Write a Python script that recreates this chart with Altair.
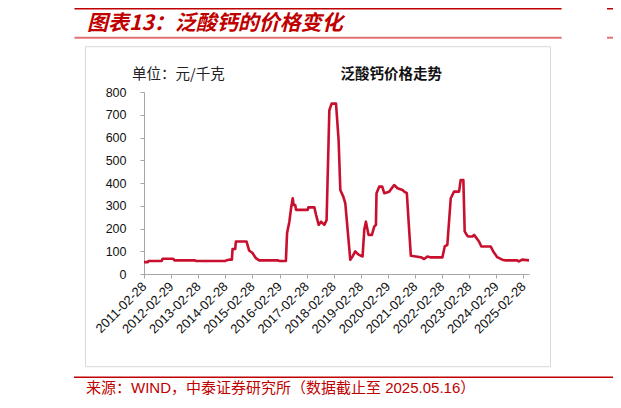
import altair as alt
import pandas as pd

# ---- data ----
dates = [
    "2011-02-28", "2011-04-20", "2011-04-28", "2011-10-25", "2011-11-06", "2012-03-28",
    "2012-04-12", "2013-01-15", "2013-01-28", "2014-03-01", "2014-03-15", "2014-04-23",
    "2014-05-28", "2014-06-06", "2014-07-12", "2014-07-21", "2014-12-11", "2015-01-16",
    "2015-03-02", "2015-04-15", "2015-05-31", "2016-02-10", "2016-02-24", "2016-05-25",
    "2016-06-10", "2016-07-11", "2016-08-03", "2016-08-25", "2016-09-07", "2016-09-28",
    "2016-10-09", "2017-03-15", "2017-03-24", "2017-06-13", "2017-07-06", "2017-08-10",
    "2017-09-11", "2017-10-25", "2017-11-25", "2018-01-01", "2018-02-01", "2018-04-01",
    "2018-05-06", "2018-05-29", "2018-07-08", "2018-08-04", "2018-10-10", "2018-11-10",
    "2018-12-16", "2019-01-30", "2019-03-25", "2019-04-17", "2019-05-09", "2019-06-13",
    "2019-07-29", "2019-08-29", "2019-09-21", "2019-09-29", "2019-11-04", "2019-12-15",
    "2020-01-11", "2020-03-18", "2020-05-24", "2020-07-08", "2020-09-13", "2020-10-06",
    "2020-11-11", "2020-12-12", "2021-01-04", "2021-05-18", "2021-07-02", "2021-08-15",
    "2021-10-04", "2022-03-05", "2022-04-06", "2022-05-11", "2022-06-26", "2022-08-09",
    "2022-10-16", "2022-11-07", "2022-12-13", "2022-12-31", "2023-01-27", "2023-02-14",
    "2023-04-13", "2023-05-06", "2023-07-12", "2023-08-12", "2023-12-16", "2024-01-20",
    "2024-03-14", "2024-05-20", "2024-06-26", "2024-12-08", "2024-12-31", "2025-02-13",
    "2025-05-16",
]
prices = [
    52, 52, 57, 57, 67, 67,
    60, 60, 57, 57, 60, 63,
    63, 110, 110, 143, 143, 103,
    92, 70, 60, 60, 57, 57,
    180, 230, 289, 333, 303, 303,
    282, 282, 293, 293, 260, 216,
    230, 216, 237, 720, 749, 749,
    588, 369, 340, 311, 63, 77,
    99, 85, 77, 194, 230, 172,
    172, 208, 216, 355, 384, 384,
    355, 362, 391, 377, 369, 362,
    355, 194, 80, 74, 66, 77,
    73, 73, 121, 128, 333, 362,
    362, 413, 413, 187, 172, 165,
    165, 172, 143, 121, 121, 99,
    74, 63, 60, 60, 55, 63,
    60,
]
tick_years = list(range(2011, 2026))
tick_days = [29 if y % 4 == 0 else 28 for y in tick_years]
y_ticks = [0, 100, 200, 300, 400, 500, 600, 700, 800]

title_text = ["图表13：泛酸钙的价格变化"]
unit_text = ["单位：元/千克"]
chart_title_text = ["泛酸钙价格走势"]
source_text = ["来源：WIND，中泰证券研究所（数据截止至 2025.05.16）"]

df = pd.DataFrame({"date": dates, "price": prices})

RED = "#C00000"
LINE = "#C8102E"
FONT = "Liberation Sans, Noto Sans CJK SC, sans-serif"
CJK = "Noto Sans CJK SC, sans-serif"

one = pd.DataFrame({"k": [0]})

border = alt.Chart(one).mark_rect(
    fillOpacity=0, stroke="#d9d9d9", strokeWidth=1
).encode(x=alt.value(-58.5), x2=alt.value(406.5), y=alt.value(-45.3), y2=alt.value(274.7))

top_rule = alt.Chart(one).mark_rule(color=RED, strokeWidth=3).encode(
    x=alt.value(-69.5), x2=alt.value(417.6), y=alt.value(-84))
top_rule2 = alt.Chart(one).mark_rule(color=RED, strokeWidth=3).encode(
    x=alt.value(463), x2=alt.value(480), y=alt.value(-84))
pink_rule = alt.Chart(one).mark_rule(color="#E07272", strokeWidth=2).encode(
    x=alt.value(-69.5), x2=alt.value(417.6), y=alt.value(-54.3))
pink_rule2 = alt.Chart(one).mark_rule(color="#E07272", strokeWidth=2).encode(
    x=alt.value(463), x2=alt.value(480), y=alt.value(-54.3))
bottom_rule = alt.Chart(one).mark_rule(color=RED, strokeWidth=1.5).encode(
    x=alt.value(-70), x2=alt.value(480), y=alt.value(285.3))

title = alt.Chart(pd.DataFrame({"t": title_text})).mark_text(
    align="left", baseline="middle", font=CJK, fontSize=21, fontWeight="bold",
    fontStyle="italic", color=RED
).encode(text="t:N", x=alt.value(-57), y=alt.value(-68))

unit = alt.Chart(pd.DataFrame({"t": unit_text})).mark_text(
    align="left", baseline="middle", font=CJK, fontSize=14.5, color="#222222"
).encode(text="t:N", x=alt.value(-12), y=alt.value(-17))

ctitle = alt.Chart(pd.DataFrame({"t": chart_title_text})).mark_text(
    align="left", baseline="middle", font=CJK, fontSize=14.5, fontWeight="bold", color="#111111"
).encode(text="t:N", x=alt.value(196.6), y=alt.value(-17))

source = alt.Chart(pd.DataFrame({"t": source_text})).mark_text(
    align="left", baseline="middle", font=FONT, fontSize=15, color=RED
).encode(text="t:N", x=alt.value(-58), y=alt.value(295.7))

x_values = [alt.DateTime(year=y, month=2, date=d, utc=True) for y, d in zip(tick_years, tick_days)]

line = alt.Chart(df).mark_line(color=LINE, strokeWidth=2.6, strokeJoin="round").encode(
    x=alt.X(
        "date:T",
        scale=alt.Scale(type="utc", domain=[alt.DateTime(year=2011, month=2, date=28, utc=True),
                                             alt.DateTime(year=2025, month=5, date=16, utc=True)]),
        axis=alt.Axis(
            values=x_values, format="%Y-%m-%d", labelAngle=-45, labelAlign="right",
            labelBaseline="middle", labelFont="Liberation Sans", labelFontSize=13,
            labelColor="#111111", domainColor="#a6a6a6", tickColor="#a6a6a6", tickSize=4,
            labelPadding=6, grid=False, title=None, labelOverlap=False, labelFlush=False,
        ),
    ),
    y=alt.Y(
        "price:Q",
        scale=alt.Scale(domain=[0, 800], nice=False, zero=True),
        axis=alt.Axis(
            values=y_ticks, labelFont="Liberation Sans", labelFontSize=12.5,
            labelColor="#111111", domainColor="#a6a6a6", tickColor="#a6a6a6", tickSize=4,
            labelPadding=14, grid=False, title=None,
        ),
    ),
)

chart = alt.layer(
    border, top_rule, top_rule2, pink_rule, pink_rule2, bottom_rule,
    title, unit, ctitle, source, line
).properties(
    width=385, height=182,
    autosize=alt.AutoSizeParams(type="none"),
    padding={"left": 136, "top": 84, "right": 84, "bottom": 126},
    background="white",
).configure_view(stroke=None)

chart.save("out.html", embed_options={"renderer": "svg", "actions": False})
